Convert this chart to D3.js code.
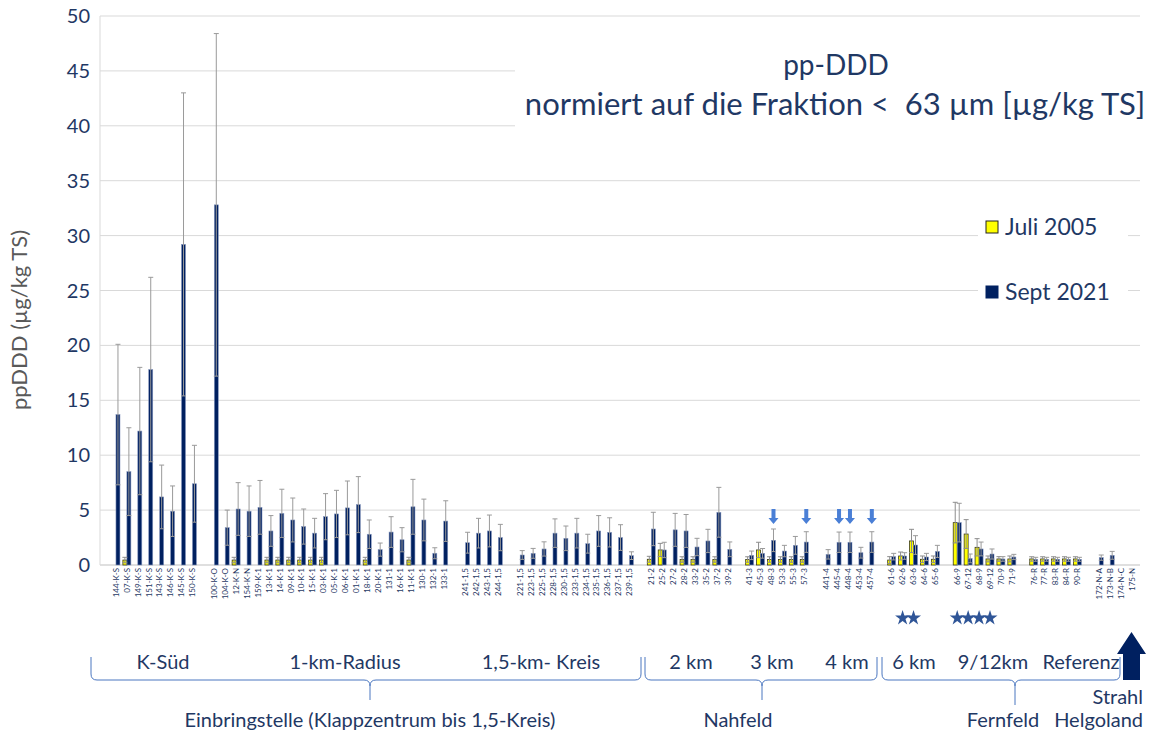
<!DOCTYPE html>
<html>
<head>
<meta charset="utf-8">
<script src="https://cdn.jsdelivr.net/npm/d3@7"></script>
<style>
  body { margin: 0; background: #fff; }
  text { font-family: Lato, "Open Sans", sans-serif; white-space: pre; }
</style>
</head>
<body>
<svg id="chart" width="1160" height="735"></svg>
<script>
// ---- data ----
const categories = [
  "144-K-S","07-K-S","149-K-S","151-K-S","143-K-S","146-K-S","145-K-S","150-K-S","",
  "100-K-O","104-K-O","12-K-N","154-K-N","159-K-1","13-K-1","14-K-1","09-K-1","10-K-1","15-K-1","03-K-1","05-K-1","06-K-1","01-K-1","18-K-1","20-K-1","131-1","16-K-1","11-K-1","130-1","132-1","133-1","",
  "241-1,5","242-1,5","243-1,5","244-1,5","",
  "221-1,5","223-1,5","225-1,5","228-1,5","230-1,5","233-1,5","234-1,5","235-1,5","236-1,5","237-1,5","239-1,5","",
  "21-2","25-2","27-2","28-2","33-2","35-2","37-2","39-2","",
  "41-3","45-3","48-3","53-3","55-3","57-3","",
  "441-4","445-4","448-4","453-4","457-4","",
  "61-6","62-6","63-6","64-6","65-6","",
  "66-9","67-12","68-9","69-12","70-9","71-9","",
  "76-R","77-R","83-R","84-R","90-R","",
  "172-N-A","173-N-B","174-N-C","175-N"
];

// Sept 2021 mean and error
const sept2021 = [
  13.7, 8.5, 12.2, 17.8, 6.2, 4.9, 29.2, 7.4, null,
  32.8, 3.4, 5.1, 4.9, 5.25, 3.1, 4.7, 4.1, 3.5, 2.9, 4.4, 4.65, 5.2, 5.5, 2.8, 1.4, 3.0, 2.3, 5.3, 4.1, 1.07, 4.0, null,
  2.03, 2.9, 3.1, 2.5, null,
  0.91, 1.06, 1.46, 2.9, 2.43, 2.9, 1.94, 3.1, 2.97, 2.5, 0.85, null,
  3.28, 1.37, 3.2, 3.1, 1.64, 2.19, 4.8, 1.43, null,
  0.88, 1.06, 2.25, 1.27, 1.79, 2.09, null,
  0.97, 2.07, 2.07, 1.12, 2.09, null,
  0.76, 0.82, 1.82, 0.73, 1.24, null,
  3.86, 0.6, 1.46, 1.0, 0.55, 0.73, null,
  0.52, 0.52, 0.52, 0.52, 0.52, null,
  0.67, 0.88, null, null
];
const sept2021Err = [
  6.4, 4.0, 5.8, 8.4, 2.9, 2.3, 13.8, 3.5, null,
  15.6, 1.6, 2.4, 2.3, 2.45, 1.4, 2.2, 2.0, 1.6, 1.35, 2.1, 2.15, 2.45, 2.55, 1.3, 0.6, 1.4, 1.1, 2.5, 1.9, 0.5, 1.85, null,
  0.95, 1.35, 1.45, 1.2, null,
  0.4, 0.45, 0.65, 1.3, 1.12, 1.35, 0.86, 1.4, 1.33, 1.17, 0.35, null,
  1.52, 0.7, 1.5, 1.5, 0.79, 1.06, 2.27, 0.67, null,
  0.39, 0.44, 1.03, 0.52, 0.81, 0.94, null,
  0.43, 0.93, 0.93, 0.49, 0.94, null,
  0.3, 0.3, 0.85, 0.33, 0.55, null,
  1.76, 0.4, 0.63, 0.46, 0.21, 0.24, null,
  0.18, 0.18, 0.18, 0.18, 0.18, null,
  0.24, 0.36, null, null
];

// Juli 2005 mean and error
const juli2005 = [
  null, 0.45, null, null, null, null, null, null, null,
  null, null, 0.45, null, null, 0.45, 0.45, 0.45, 0.45, 0.45, 0.45, null, null, null, 0.45, null, null, null, 0.45, null, null, null, null,
  null, null, null, null, null,
  null, null, null, null, null, null, null, null, null, null, null, null,
  0.52, 1.37, null, 0.5, 0.5, null, 0.5, null, null,
  0.5, 1.37, 0.5, 0.5, 0.5, 0.5, null,
  null, null, null, null, null, null,
  0.45, 0.82, 2.19, 0.52, 0.52, null,
  3.86, 2.82, 1.61, 0.55, 0.55, 0.55, null,
  0.55, 0.55, 0.55, 0.55, 0.55, null,
  null, null, null, null
];
const juli2005Err = [
  null, 0.25, null, null, null, null, null, null, null,
  null, null, 0.25, null, null, 0.25, 0.25, 0.25, 0.25, 0.25, 0.25, null, null, null, 0.25, null, null, null, 0.25, null, null, null, null,
  null, null, null, null, null,
  null, null, null, null, null, null, null, null, null, null, null, null,
  0.27, 0.6, null, 0.25, 0.25, null, 0.25, null, null,
  0.25, 0.7, 0.25, 0.25, 0.25, 0.25, null,
  null, null, null, null, null, null,
  0.31, 0.36, 1.06, 0.3, 0.3, null,
  1.85, 1.31, 0.79, 0.27, 0.21, 0.27, null,
  0.2, 0.2, 0.2, 0.2, 0.2, null,
  null, null, null, null
];

const yTicks = [0, 5, 10, 15, 20, 25, 30, 35, 40, 45, 50];
const seriesNames = ["Juli 2005", "Sept 2021"];
const arrowCats = ["48-3", "57-3", "445-4", "448-4", "457-4"];
const starCats = ["62-6", "63-6", "66-9", "67-12", "68-9", "69-12"];

// ---- layout ----
const navy = "#002060",
      textBlue = "#1f3864",
      barW = 4;

const svg = d3.select("#chart");

const x = d3.scaleBand()
  .domain(d3.range(categories.length))
  .range([110.5, 1137.5]);

const y = d3.scaleLinear().domain([0, 50]).range([565, 16]);

// Gridlines
svg.append("g").attr("class", "grid")
  .selectAll("line")
  .data(yTicks)
  .enter().append("line")
  .attr("x1", 100).attr("x2", 1140)
  .attr("y1", d => y(d)).attr("y2", d => y(d))
  .attr("stroke", d => d === 0 ? "#bfbfbf" : "#d9d9d9")
  .attr("stroke-width", 1);

svg.append("line")
  .attr("x1", 100).attr("x2", 100)
  .attr("y1", y(50)).attr("y2", y(0))
  .attr("stroke", "#d9d9d9");

// Y tick labels
svg.append("g")
  .selectAll("text")
  .data(yTicks)
  .enter().append("text")
  .attr("x", 90)
  .attr("y", d => y(d) + 7)
  .attr("text-anchor", "end")
  .style("font-size", "20px")
  .attr("fill", textBlue)
  .text(d => d);

// Y axis title
svg.append("text")
  .attr("transform", "translate(27,320) rotate(-90)")
  .attr("text-anchor", "middle")
  .style("font-size", "22px")
  .attr("fill", "#595959")
  .text("ppDDD (µg/kg TS)");

// White boxes under title and legend
svg.append("rect").attr("x", 515).attr("y", 24).attr("width", 628).attr("height", 112).attr("fill", "#fff");
svg.append("rect").attr("x", 978).attr("y", 208).attr("width", 150).attr("height", 100).attr("fill", "#fff");

// Title
svg.append("text")
  .attr("x", 836).attr("y", 75)
  .attr("text-anchor", "middle")
  .style("font-size", "28px")
  .attr("fill", textBlue)
  .text("pp-DDD");
svg.append("text")
  .attr("x", 835).attr("y", 115)
  .attr("text-anchor", "middle")
  .style("font-size", "31px")
  .attr("fill", textBlue)
  .text("normiert auf die Fraktion <  63 µm [µg/kg TS]");

// Bar data rows
const rows = categories.map((c, i) => ({
  i: i, cat: c,
  j: juli2005[i], je: juli2005Err[i],
  s: sept2021[i], se: sept2021Err[i]
}));

const cx = i => x(i) + x.bandwidth() / 2;

// Yellow bars (Juli 2005)
svg.append("g").selectAll("rect")
  .data(rows.filter(d => d.j != null))
  .enter().append("rect")
  .attr("x", d => cx(d.i) - barW)
  .attr("y", d => y(d.j))
  .attr("width", barW)
  .attr("height", d => y(0) - y(d.j))
  .attr("fill", "#ffff00")
  .attr("stroke", "#3a3a1a")
  .attr("stroke-width", 0.8);

// Navy bars (Sept 2021)
svg.append("g").selectAll("rect")
  .data(rows.filter(d => d.s != null))
  .enter().append("rect")
  .attr("x", d => cx(d.i))
  .attr("y", d => y(d.s))
  .attr("width", barW)
  .attr("height", d => y(0) - y(d.s))
  .attr("fill", navy)
  .attr("stroke", "#8596bd")
  .attr("stroke-width", 0.6);

// Error bars
function errorBars(data, val, err, off, color) {
  const g = svg.append("g").attr("stroke", color).attr("stroke-width", 1);
  data.forEach(d => {
    const xm = cx(d.i) + off,
          lo = y(d[val] - d[err]),
          hi = y(d[val] + d[err]);
    g.append("line").attr("x1", xm).attr("x2", xm).attr("y1", lo).attr("y2", hi);
    g.append("line").attr("x1", xm - 2.5).attr("x2", xm + 2.5).attr("y1", hi).attr("y2", hi);
    g.append("line").attr("x1", xm - 2.5).attr("x2", xm + 2.5).attr("y1", lo).attr("y2", lo);
  });
}
errorBars(rows.filter(d => d.j != null), "j", "je", -barW / 2, "#8c8c8c");
errorBars(rows.filter(d => d.s != null), "s", "se", barW / 2, "#9a9a9a");

// X category labels
svg.append("g").selectAll("text")
  .data(rows.filter(d => d.cat !== ""))
  .enter().append("text")
  .attr("transform", d => `translate(${cx(d.i) + 2.8},568) rotate(-90)`)
  .attr("text-anchor", "end")
  .style("font-size", "8px")
  .attr("fill", textBlue)
  .text(d => d.cat);

// Blue down arrows above selected stations
const arrow = d3.line();
svg.append("g").selectAll("path")
  .data(arrowCats)
  .enter().append("path")
  .attr("d", c => {
    const xm = cx(categories.indexOf(c)) + 2, t = 509, b = 524;
    return arrow([[xm - 2, t], [xm + 2, t], [xm + 2, b - 6], [xm + 5, b - 6], [xm, b], [xm - 5, b - 6], [xm - 2, b - 6]]) + "Z";
  })
  .attr("fill", "#4a7fd6");

// Stars
const star = d3.symbol().type(d3.symbolStar).size(70);
svg.append("g").selectAll("path")
  .data(starCats)
  .enter().append("path")
  .attr("transform", c => `translate(${cx(categories.indexOf(c))},618)`)
  .attr("d", star)
  .attr("fill", "#2f5597");

// Legend
const legend = svg.append("g");
seriesNames.forEach((name, k) => {
  legend.append("rect")
    .attr("x", 986).attr("y", 221 + k * 65)
    .attr("width", 12).attr("height", 12)
    .attr("fill", k === 0 ? "#ffff00" : navy)
    .attr("stroke", k === 0 ? "#222" : navy);
  legend.append("text")
    .attr("x", 1005).attr("y", 235 + k * 65)
    .style("font-size", "23px")
    .attr("fill", textBlue)
    .text(name);
});

// Curly braces for station groups
function brace(x1, x2, xm, yTop, yLine, yTip) {
  const r = 6;
  const p = d3.path();
  p.moveTo(x1, yTop);
  p.lineTo(x1, yLine - r);
  p.quadraticCurveTo(x1, yLine, x1 + r, yLine);
  p.lineTo(xm - r, yLine);
  p.quadraticCurveTo(xm, yLine, xm, yLine + r);
  p.lineTo(xm, yTip);
  p.moveTo(xm, yLine + r);
  p.quadraticCurveTo(xm, yLine, xm + r, yLine);
  p.lineTo(x2 - r, yLine);
  p.quadraticCurveTo(x2, yLine, x2, yLine - r);
  p.lineTo(x2, yTop);
  svg.append("path").attr("d", p.toString())
    .attr("fill", "none").attr("stroke", "#4a76c0").attr("stroke-width", 1);
}
brace(91, 641, 370, 657, 680, 700);
brace(645, 877, 762, 657, 680, 700);
brace(882, 1120, 1015, 657, 680, 705);

// Group labels
const groupLabels = [
  {t: "K-Süd", x: 163, y: 669},
  {t: "1-km-Radius", x: 345, y: 669},
  {t: "1,5-km- Kreis", x: 541, y: 669},
  {t: "2 km", x: 691, y: 669},
  {t: "3 km", x: 772, y: 669},
  {t: "4 km", x: 847, y: 669},
  {t: "6 km", x: 914, y: 669},
  {t: "9/12km", x: 993, y: 669},
  {t: "Referenz", x: 1081, y: 669},
  {t: "Einbringstelle (Klappzentrum bis 1,5-Kreis)", x: 370, y: 727},
  {t: "Nahfeld", x: 738, y: 727},
  {t: "Fernfeld", x: 1003, y: 727}
];
svg.append("g").selectAll("text")
  .data(groupLabels)
  .enter().append("text")
  .attr("x", d => d.x).attr("y", d => d.y)
  .attr("text-anchor", "middle")
  .style("font-size", "20px")
  .attr("fill", textBlue)
  .text(d => d.t);

svg.append("text").attr("x", 1143).attr("y", 704).attr("text-anchor", "end")
  .style("font-size", "20px").attr("fill", textBlue).text("Strahl");
svg.append("text").attr("x", 1143).attr("y", 727).attr("text-anchor", "end")
  .style("font-size", "20px").attr("fill", textBlue).text("Helgoland");

// Big navy arrow (Strahl)
svg.append("path")
  .attr("d", d3.line()([[1123, 680], [1140, 680], [1140, 654], [1146, 654], [1131.5, 632], [1117, 654], [1123, 654]]) + "Z")
  .attr("fill", navy);
</script>
</body>
</html>
